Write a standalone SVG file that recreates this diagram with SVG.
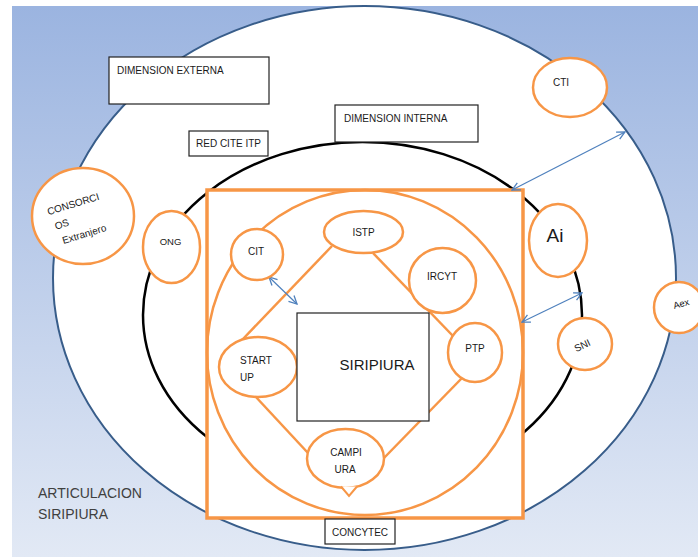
<svg xmlns="http://www.w3.org/2000/svg" width="698" height="557" viewBox="0 0 698 557">
<defs>
<linearGradient id="bg" x1="0" y1="0" x2="0" y2="1">
<stop offset="0" stop-color="#9BB4E0"/>
<stop offset="1" stop-color="#E2E9F5"/>
</linearGradient>
<marker id="ah" viewBox="0 0 10 10" refX="9" refY="5" markerWidth="10" markerHeight="10" markerUnits="userSpaceOnUse" orient="auto-start-reverse">
<path d="M1,1 L9,5 L1,9" fill="none" stroke="#4F81BD" stroke-width="1.3"/>
</marker>
<style>
text{font-family:"Liberation Sans",Arial,sans-serif;fill:#1a1a1a;}
.or{fill:#fff;stroke:#F79646;stroke-width:2.5;}
.ol{fill:none;stroke:#F79646;stroke-width:2.5;}
.box{fill:#fff;stroke:#222;stroke-width:1.2;}
.t10{font-size:10px;}
.t9{font-size:9.5px;}
.mid{text-anchor:middle;}
.arr{stroke:#4F81BD;stroke-width:1.2;fill:none;marker-start:url(#ah);marker-end:url(#ah);}
</style>
</defs>
<rect x="12" y="6" width="686" height="551" fill="url(#bg)"/>
<g id="outer-ring"><ellipse cx="364.5" cy="278" rx="311.5" ry="272" fill="#fff" stroke="#385D8A" stroke-width="2"/></g>
<g id="inner-ring"><ellipse cx="362.5" cy="315" rx="219.5" ry="173" fill="none" stroke="#000" stroke-width="2.5"/></g>

<g id="dimension-externa"><rect class="box" x="109" y="57" width="160" height="47"/><text class="t10" x="117" y="74">DIMENSION EXTERNA</text></g>
<g id="red-cite-itp"><rect class="box" x="189" y="131" width="79" height="25"/><text class="t10 mid" x="228.5" y="147">RED CITE ITP</text></g>
<g id="dimension-interna"><rect class="box" x="335" y="105" width="143" height="37"/><text class="t10" x="344" y="122">DIMENSION INTERNA</text></g>

<g id="cti"><ellipse class="or" cx="570" cy="87.5" rx="37" ry="29.5"/><text class="t10 mid" x="561" y="86">CTI</text></g>
<g id="consorcios"><ellipse class="or" cx="83" cy="216" rx="51" ry="48"/>
<g transform="rotate(-17 80 216)"><text class="t10" x="50" y="206">CONSORCI</text><text class="t10" x="53" y="222">OS</text><text class="t10" x="56" y="238">Extranjero</text></g></g>
<g id="ong"><ellipse class="or" cx="171.5" cy="247" rx="28.5" ry="36"/><text class="t9 mid" x="170.5" y="245">ONG</text></g>
<g id="ai"><ellipse class="or" cx="558" cy="240.5" rx="29" ry="36.5"/><text class="mid" font-size="19" x="555" y="242">Ai</text></g>
<g id="sni"><ellipse class="or" cx="585" cy="344" rx="27" ry="26"/><text class="t10 mid" x="582" y="349" transform="rotate(-25 582 345)">SNI</text></g>
<g id="aex"><ellipse class="or" cx="679" cy="307.5" rx="25" ry="25.5"/><text class="t9 mid" x="681" y="307" transform="rotate(-15 681 303)">Aex</text></g>

<g id="siripiura-frame"><rect x="207" y="190" width="316" height="328" fill="#fff" stroke="#F79646" stroke-width="3.5"/>
<ellipse class="ol" cx="365" cy="352.5" rx="158" ry="162.5"/></g>

<g id="connectors">
<line class="ol" x1="332" y1="246" x2="242" y2="340"/>
<line class="ol" x1="373" y1="253" x2="453" y2="336"/>
<line class="ol" x1="255" y1="396" x2="308" y2="453"/>
<line class="ol" x1="383" y1="459" x2="462" y2="378"/>
<line class="arr" x1="269" y1="277" x2="297" y2="304"/>
<line class="arr" x1="625" y1="132" x2="512" y2="190"/>
<line class="arr" x1="582" y1="293" x2="522" y2="322"/>
</g>

<g id="istp"><ellipse class="or" cx="363.5" cy="232" rx="39.5" ry="21"/><text class="t10 mid" x="363.5" y="236">ISTP</text></g>
<g id="cit"><ellipse class="or" cx="257" cy="254.5" rx="26" ry="25.5"/><text class="t10 mid" x="256" y="255">CIT</text></g>
<g id="ircyt"><ellipse class="or" cx="442.5" cy="280.5" rx="33.5" ry="32.5"/><text class="t10 mid" x="442" y="280">IRCYT</text></g>
<g id="ptp"><ellipse class="or" cx="475" cy="352.5" rx="27" ry="29.5"/><text class="t10 mid" x="475" y="352">PTP</text></g>
<g id="start-up"><ellipse class="or" cx="258" cy="367" rx="39" ry="30"/><text class="t10" x="240" y="364">START</text><text class="t10" x="240" y="381">UP</text></g>
<g id="campiura"><ellipse class="or" cx="345.5" cy="458.5" rx="38.5" ry="29.5"/><path d="M341,486.5 L349,496 L357,486.5" fill="#fff" stroke="#F79646" stroke-width="2"/><text class="t10 mid" x="346" y="456">CAMPI</text><text class="t10 mid" x="345" y="473">URA</text></g>
<g id="siripiura"><rect class="box" x="297" y="313" width="132" height="108"/><text class="mid" font-size="15" x="377" y="370">SIRIPIURA</text></g>

<g id="concytec"><rect class="box" x="325" y="519" width="70" height="25"/><text class="t10 mid" x="360" y="536">CONCYTEC</text></g>
<g id="articulacion"><text font-size="14" x="38" y="498" style="fill:#404040">ARTICULACION</text><text font-size="14" x="38" y="519" style="fill:#404040">SIRIPIURA</text></g>
</svg>
